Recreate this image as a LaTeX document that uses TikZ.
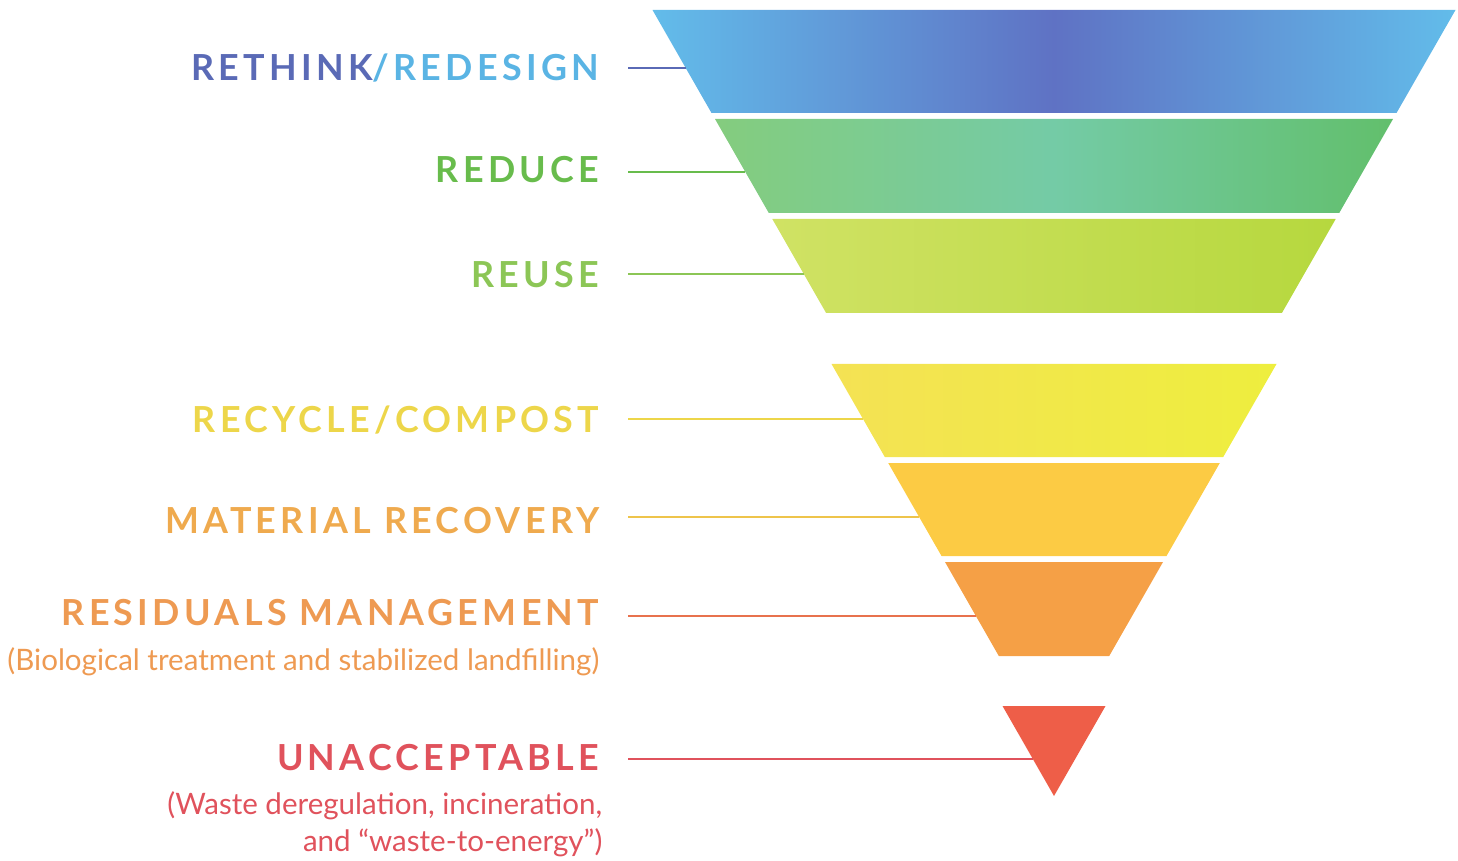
\documentclass[tikz,border=0pt]{standalone}
\usepackage{fontspec}
\setmainfont{Lato}
\newfontfamily\tagfamily{Lato}[LetterSpace=12]

% text and line colours
\definecolor{rethinkA}{HTML}{5A6AB6}
\definecolor{rethinkB}{HTML}{5AB4E4}
\definecolor{reducec}{HTML}{68BC4C}
\definecolor{reusec}{HTML}{8CC656}
\definecolor{recyclec}{HTML}{EDD64A}
\definecolor{recoveryc}{HTML}{EFAA4E}
\definecolor{residualc}{HTML}{EE9A52}
\definecolor{residlinec}{HTML}{E8724E}
\definecolor{unacceptc}{HTML}{E0525C}
% band colours
\definecolor{skyband}{HTML}{62BCEA}
\definecolor{indigoband}{HTML}{5F72C4}
\definecolor{greenbandA}{HTML}{84CC7E}
\definecolor{greenbandB}{HTML}{74CBA6}
\definecolor{greenbandC}{HTML}{62BF6C}
\definecolor{limebandA}{HTML}{D0E264}
\definecolor{limebandB}{HTML}{B6D83E}
\definecolor{yellowbandA}{HTML}{F4E254}
\definecolor{yellowbandB}{HTML}{EEEE3E}
\definecolor{amberband}{HTML}{FCCB44}
\definecolor{orangeband}{HTML}{F5A046}
\definecolor{redband}{HTML}{EE5E48}

\tikzset{
  tag/.style={anchor=east, inner sep=0pt, font=\tagfamily\bfseries\fontsize{10.2}{12}\selectfont},
  note/.style={anchor=east, inner sep=0pt, align=right, font=\fontsize{8.4}{10.5}\selectfont},
  lead/.style={line width=0.6pt}
}

\begin{document}
\begin{tikzpicture}[x=0.01cm, y=-0.01cm]
  \useasboundingbox (0,0) rectangle (1458,861);

  % upper part of the funnel
  \shade[left color=skyband, right color=skyband, middle color=indigoband]
    (652.5,10) -- (1455.5,10) -- (1396.5,113) -- (711.5,113) -- cycle;
  \shade[left color=greenbandA, right color=greenbandC, middle color=greenbandB]
    (715,119) -- (1393,119) -- (1339.2,213) -- (768.8,213) -- cycle;
  \shade[left color=limebandA, right color=limebandB]
    (772.3,219) -- (1335.7,219) -- (1281.9,313) -- (826.1,313) -- cycle;

  % lower part
  \shade[left color=yellowbandA, right color=yellowbandB]
    (831.5,364) -- (1276.5,364) -- (1223.2,457) -- (884.8,457) -- cycle;
  \fill[amberband] (888.2,463) -- (1219.8,463) -- (1166.5,556) -- (941.5,556) -- cycle;
  \fill[orangeband] (945,562) -- (1163,562) -- (1109.2,656) -- (998.8,656) -- cycle;
  \fill[redband] (1002.5,706) -- (1105.5,706) -- (1054,796) -- cycle;

  \coordinate (rethink-tip) at (685.7,68);
  \coordinate (reduce-tip) at (745.3,172);
  \coordinate (reuse-tip) at (803.8,274);
  \coordinate (recycle-tip) at (863,419);
  \coordinate (recovery-tip) at (919.2,517);
  \coordinate (residuals-tip) at (975.9,616);
  \coordinate (unaccept-tip) at (1033,759);

  \node[tag] at (600,68) (rethink) {\textcolor{rethinkA}{RETHINK}\textcolor{rethinkB}{/REDESIGN}};
  \node[tag, text=reducec] at (600,170) (reduce) {REDUCE};
  \node[tag, text=reusec] at (600,275) (reuse) {REUSE};
  \node[tag, text=recyclec] at (600,420) (recycle) {RECYCLE/COMPOST};
  \node[tag, text=recoveryc] at (600,521) (recovery) {MATERIAL RECOVERY};
  \node[tag, text=residualc] at (600,613) (residuals) {RESIDUALS MANAGEMENT};
  \node[note, text=residualc] at (600,662) (residualsnote) {(Biological treatment and stabilized landfilling)};
  \node[tag, text=unacceptc] at (600,758) (unaccept) {UNACCEPTABLE};
  \node[note, text=unacceptc] at (603,824.5) (unacceptnote) {(Waste deregulation, incineration,\\and “waste-to-energy”)};

  \draw[lead, rethinkA] ([xshift=0.28cm]rethink.east) -- (rethink-tip);
  \draw[lead, reducec] ([xshift=0.28cm]reduce.east |- reduce-tip) -- (reduce-tip);
  \draw[lead, reusec] ([xshift=0.28cm]reuse.east |- reuse-tip) -- (reuse-tip);
  \draw[lead, recyclec] ([xshift=0.28cm]recycle.east |- recycle-tip) -- (recycle-tip);
  \draw[lead, recyclec!60!recoveryc] ([xshift=0.28cm]recovery.east |- recovery-tip) -- (recovery-tip);
  \draw[lead, residlinec] ([xshift=0.28cm]residuals.east |- residuals-tip) -- (residuals-tip);
  \draw[lead, unacceptc] ([xshift=0.28cm]unaccept.east |- unaccept-tip) -- (unaccept-tip);
\end{tikzpicture}
\end{document}
